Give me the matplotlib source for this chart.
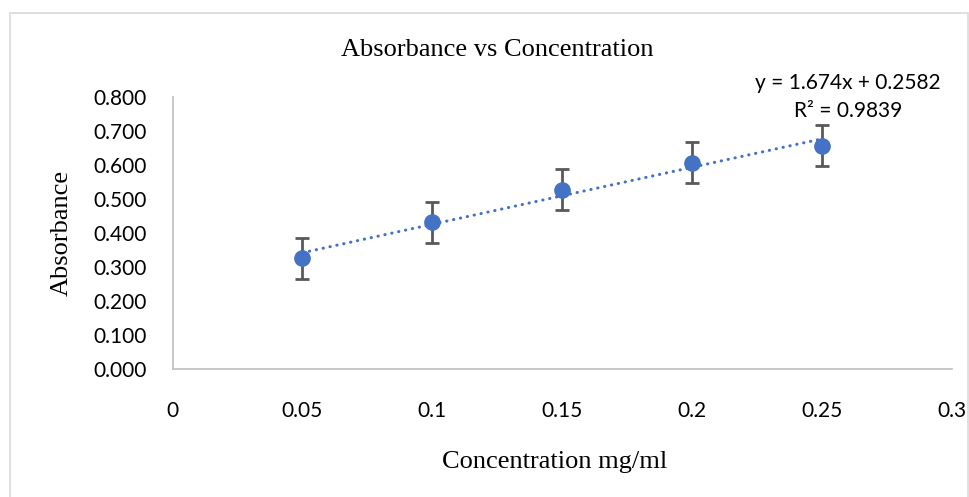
import matplotlib
matplotlib.use('Agg')
import matplotlib.pyplot as plt
from matplotlib.patches import Rectangle
import numpy as np

# concentration (mg/ml) vs absorbance
concentration = [0.05, 0.10, 0.15, 0.20, 0.25]
absorbance = [0.326, 0.431, 0.527, 0.606, 0.657]
abs_err = [0.06, 0.06, 0.06, 0.06, 0.06]

# linear trendline as printed on the chart
slope, intercept, r2 = 1.674, 0.2582, 0.9839

x_ticks = [0, 0.05, 0.1, 0.15, 0.2, 0.25, 0.3]
y_ticks = [0.0, 0.1, 0.2, 0.3, 0.4, 0.5, 0.6, 0.7, 0.8]

blue = '#4472C4'
serif = 'Liberation Serif'
sans = 'Lato'

fig = plt.figure(figsize=(9.7, 4.97), dpi=100)
ax = fig.add_axes([0.178, 0.2575, 0.803, 0.5475])

# chart frame
fig.patches.append(Rectangle((10 / 970, -0.1), 958 / 970, 1 - 13 / 497 + 0.1,
                             transform=fig.transFigure, fill=False,
                             edgecolor='#d9d9d9', linewidth=1.2))

xs = np.array([concentration[0], concentration[-1]])
ax.plot(xs, slope * xs + intercept, color=blue, linewidth=2.2,
        linestyle=(0, (0.1, 2.2)), dash_capstyle='round', zorder=2)

ax.errorbar(concentration, absorbance, yerr=abs_err, fmt='o', color=blue,
            markersize=11, ecolor='#595959', elinewidth=2, capsize=5,
            capthick=2, zorder=3)

ax.set_xlim(0, 0.3)
ax.set_ylim(0, 0.8)
ax.set_xticks(x_ticks)
ax.set_xticklabels([f'{v:g}' for v in x_ticks], fontfamily=sans, fontsize=15)
ax.set_yticks(y_ticks)
ax.set_yticklabels([f'{v:.3f}' for v in y_ticks], fontfamily=sans, fontsize=15)
ax.tick_params(length=0)
ax.tick_params(axis='x', pad=23)
ax.tick_params(axis='y', pad=18.5)

for side in ['top', 'right']:
    ax.spines[side].set_visible(False)
for side in ['left', 'bottom']:
    ax.spines[side].set_color('#bfbfbf')
    ax.spines[side].set_linewidth(1.2)

fig.text(497 / 970, 1 - 50 / 497, 'Absorbance vs Concentration', ha='center',
         va='center', fontfamily=serif, fontsize=19)
fig.text(555 / 970, 1 - 462 / 497, 'Concentration mg/ml', ha='center',
         va='center', fontfamily=serif, fontsize=19)
fig.text(62 / 970, 1 - 233 / 497, 'Absorbance', ha='center', va='center',
         rotation=90, fontfamily=serif, fontsize=19)

fig.text(848 / 970, 1 - 83 / 497, f'y = {slope}x + {intercept}',
         ha='center', va='center', fontfamily=sans, fontsize=15)
fig.text(848 / 970, 1 - 111 / 497, f'R² = {r2}',
         ha='center', va='center', fontfamily=sans, fontsize=15)

fig.savefig('out.png', dpi=100)
